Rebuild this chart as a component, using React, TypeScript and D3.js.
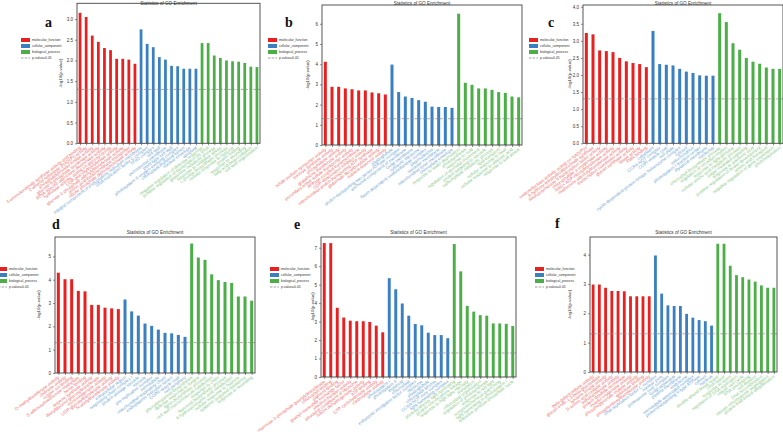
import * as d3 from "d3";
import { useEffect, useRef } from "react";

// GO categories and colours
const categories = ["molecular_function", "cellular_component", "biological_process"];
const barColors = ["#e8201f", "#3a7fc1", "#4cae47"];
const textColors = ["#ee6a6b", "#6a9fd4", "#82c77f"];
const title = "Statistics of GO Enrichment";
const yLabel = "-log10(p-value)";
const pCut = 0.05;

// panel a
const valuesA = [3.15, 3.05, 2.6, 2.45, 2.3, 2.25, 2.04, 2.04, 2.02, 1.92,
  2.75, 2.4, 2.32, 2.08, 2.02, 1.87, 1.86, 1.8, 1.8, 1.8,
  2.42, 2.42, 2.12, 2.06, 2.0, 1.98, 1.97, 1.94, 1.85, 1.84];
const termsA = ["5-aminolevulinate synthase activity and binding", "2-alkenal reductase [NAD(P)] activity",
  "phosphatidylinositol kinase activity", "glucose-6-phosphate isomerase activity",
  "tRNA-specific adenosine deaminase activity", "hydrolase activity, acting on glycosyl bonds",
  "UDP-glucosyltransferase activity", "glucose-1-phosphate adenylyltransferase activity",
  "amino acid transmembrane transporter", "ribose phosphate diphosphokinase activity",
  "integral component of endoplasmic reticulum membrane", "DNA replication factor C complex",
  "TFIID complex", "cell wall", "peroxisomal membrane", "plant-type cell wall",
  "photosystem II oxygen evolving complex", "chloroplast thylakoid lumen", "nuclear envelope", "apoplast",
  "negative regulation of defense response", "positive regulation of transcription by RNA",
  "glutamine metabolic process", "response to oxidative stress", "L-proline biosynthetic process",
  "cellular response to hypoxia", "protein folding", "response to wounding",
  "fatty acid beta-oxidation", "cell wall organization"];

// panel b
const valuesB = [4.12, 2.88, 2.88, 2.8, 2.76, 2.7, 2.7, 2.6, 2.56, 2.5,
  3.98, 2.62, 2.4, 2.33, 2.22, 2.14, 1.9, 1.88, 1.88, 1.84,
  6.5, 3.08, 2.98, 2.8, 2.8, 2.73, 2.62, 2.58, 2.4, 2.36];
const termsB = ["solute:sodium symporter activity", "sucrose synthase activity", "phosphatase activity",
  "glutathione transferase activity", "secondary active sulfate transporter activity",
  "ATPase-coupled transmembrane", "GDP-dissociation inhibitor activity",
  "mitochondrial proton-transporting ATP synthase", "glutamate decarboxylase activity", "nutrient reservoir activity",
  "plastoglobule", "proton-transporting two-sector ATPase complex", "anchored component of membrane",
  "Golgi membrane", "cytosolic ribosome", "flavin-dependent oxidoreductase complex",
  "plasmodesma", "vacuolar membrane", "mitochondrial inner membrane", "chloroplast envelope",
  "response to water deprivation", "photosynthesis", "response to cold", "regulation of stomatal movement",
  "protein targeting to vacuole", "carbohydrate metabolic process", "lipid transport",
  "cellular response to heat", "cellular response to abscisic acid", "response to salt stress"];

// panel c
const valuesC = [3.23, 3.19, 2.72, 2.7, 2.67, 2.5, 2.4, 2.35, 2.32, 2.23,
  3.29, 2.32, 2.3, 2.28, 2.18, 2.1, 2.06, 1.99, 1.98, 1.98,
  3.81, 3.55, 2.93, 2.74, 2.5, 2.39, 2.33, 2.22, 2.18, 2.18];
const termsC = ["oxidoreductase activity, acting on NAD(P)H", "4-hydroxy-tetrahydrodipicolinate synthase",
  "RNA polymerase II transcription factor activity", "chlorophyllide a oxygenase activity",
  "NAD+ ADP-ribosyltransferase activity", "methionine adenosyltransferase activity",
  "transcription coactivator activity", "glucan synthase activity", "lipase activity", "FMN binding",
  "cytoplasm", "CCR4-NOT complex", "COPI vesicle coat", "cell plate",
  "cyclin-dependent protein kinase holoenzyme complex", "cytosol", "mitochondrion",
  "photosystem I reaction center", "thylakoid membrane", "nucleolus",
  "chlorophyll biosynthetic process", "regulation of circadian rhythm", "response to light stimulus",
  "cellular amino acid metabolic process", "sugar mediated signaling", "response to jasmonic acid",
  "positive regulation of flower development", "amino acid transport",
  "negative regulation of gene expression", "photorespiration"];

// panel d
const valuesD = [4.3, 4.02, 4.02, 3.52, 3.5, 2.92, 2.92, 2.8, 2.77, 2.74,
  3.15, 2.64, 2.46, 2.12, 2.02, 1.86, 1.72, 1.7, 1.63, 1.55,
  5.55, 4.95, 4.85, 4.23, 3.98, 3.9, 3.86, 3.28, 3.28, 3.1];
const termsD = ["O-methyltransferase activity", "chitinase activity", "copper ion binding",
  "S-adenosylmethionine methylase", "heme binding", "terpene synthase activity",
  "diacylglycerol glucosyltransferase", "monooxygenase activity",
  "UDP-glycosyltransferase activity", "N-acetyltransferase activity",
  "extracellular region", "respiratory chain complex I", "protein storage vacuole", "vacuole",
  "pre-replicative complex", "microtubule", "mitochondrial respiratory chain",
  "endoplasmic reticulum lumen", "COPII vesicle coat", "cell periphery",
  "phenylpropanoid biosynthesis", "defense response to fungus", "lignin biosynthetic process",
  "cell wall macromolecule catabolism", "response to chitin",
  "flavonoid biosynthetic process", "4-hydroxycinnamic acid metabolism",
  "cellular response to hypoxia", "systemic acquired resistance", "response to wounding"];

// panel e
const valuesE = [7.25, 7.25, 3.75, 3.22, 3.05, 3.02, 3.02, 2.98, 2.78, 2.42,
  5.35, 4.75, 3.98, 3.32, 2.87, 2.8, 2.4, 2.27, 2.27, 2.1,
  7.2, 5.72, 3.85, 3.54, 3.35, 3.32, 2.9, 2.9, 2.88, 2.76];
const termsE = ["mannose-1-phosphate guanylyltransferase", "chlorophyll binding", "pigment binding",
  "guanyl-nucleotide exchange factor", "electron transfer activity",
  "structural constituent of ribosome", "NADH dehydrogenase activity", "ATP binding",
  "GTP cyclohydrolase activity", "carboxylase activity",
  "photosystem I", "photosystem II", "thylakoid", "chloroplast",
  "eukaryotic elongation factor complex", "ribosome", "plastoglobule",
  "chloroplast stroma", "CCR4-NOT core complex", "light-harvesting complex",
  "photosynthesis, light harvesting", "protein-chromophore linkage", "response to high light intensity",
  "translation", "chloroplast organization", "regulation of photosynthesis",
  "response to red light", "nonphotochemical quenching",
  "light harvesting in photosystem I", "reductive pentose-phosphate cycle"];

// panel f
const valuesF = [2.98, 2.98, 2.87, 2.76, 2.76, 2.75, 2.58, 2.58, 2.58, 2.58,
  3.97, 2.67, 2.27, 2.25, 2.25, 1.98, 1.85, 1.77, 1.73, 1.58,
  4.37, 4.37, 3.62, 3.3, 3.23, 3.15, 3.08, 2.95, 2.87, 2.87];
const termsF = ["beta-galactosidase activity", "glucan endo-1,3-beta-glucosidase", "tyrosine kinase activity",
  "D-amino acid oxidase activity", "sulfotransferase activity", "protein disulfide isomerase",
  "inositol oxygenase activity", "phosphoglycerate mutase activity", "galactose binding",
  "phosphoribosyltransferase activity",
  "DNA replication factor C complex", "nuclear pore", "proteasome core complex",
  "Golgi apparatus", "plasma membrane", "endosome", "microtubule associated complex",
  "proton-transporting V-type ATPase", "cytosol", "nucleus",
  "double-strand break repair", "DNA repair", "response to auxin",
  "regulation of DNA replication", "mitotic cell cycle", "RNA processing",
  "cell division", "DNA recombination", "meiotic chromosome segregation",
  "protein K48-linked ubiquitination"];

interface Panel {
  values: number[];
  terms: string[];
  letter: string;
  x0: number; x1: number; y0: number; y1: number;
  ymax: number; step: number; fmt: string;
  legX: number; legY: number;
  labX: number; letX: number; letY: number; titleY: number;
}

const panels: Panel[] = [
  { values: valuesA, terms: termsA, letter: "a", x0: 77, x1: 260, y0: 3.3, y1: 143.3, ymax: 3.38, step: 0.5, fmt: ".1f",
    legX: 21, legY: 40, labX: 62, letX: 45, letY: 27, titleY: 4.5 },
  { values: valuesB, terms: termsB, letter: "b", x0: 322, x1: 522, y0: 5, y1: 145, ymax: 6.93, step: 1, fmt: "d",
    legX: 268, legY: 40, labX: 309, letX: 285, letY: 27, titleY: 4.5 },
  { values: valuesC, terms: termsC, letter: "c", x0: 583, x1: 783, y0: 5, y1: 143.3, ymax: 4.05, step: 0.5, fmt: ".1f",
    legX: 529, legY: 40, labX: 571, letX: 548, letY: 27, titleY: 4.5 },
  { values: valuesD, terms: termsD, letter: "d", x0: 55, x1: 255, y0: 237, y1: 373, ymax: 5.83, step: 1, fmt: "d",
    legX: -2, legY: 269, labX: 40, letX: 52, letY: 229, titleY: 234 },
  { values: valuesE, terms: termsE, letter: "e", x0: 321, x1: 516, y0: 237, y1: 377, ymax: 7.58, step: 1, fmt: "d",
    legX: 270, legY: 269, labX: 314, letX: 294, letY: 229, titleY: 234 },
  { values: valuesF, terms: termsF, letter: "f", x0: 590, x1: 777, y0: 237, y1: 372, ymax: 4.6, step: 1, fmt: "d",
    legX: 535, legY: 269, labX: 571, letX: 555, letY: 228, titleY: 234 },
];

const sans = "Liberation Sans, Arial, sans-serif";

function drawPanel(svg: any, p: Panel) {
  const g = svg.append("g");
  const n = p.values.length;
  const x = d3.scaleLinear().domain([-0.5, n - 0.5]).range([p.x0, p.x1]);
  const y = d3.scaleLinear().domain([0, p.ymax]).range([p.y1, p.y0]);
  const bw = ((p.x1 - p.x0) / n) * 0.45;
  const group = (i: number) => Math.floor(i / 10);

  g.selectAll("rect.bar").data(p.values).join("rect")
    .attr("class", "bar")
    .attr("x", (_: number, i: number) => x(i) - bw / 2)
    .attr("y", (d: number) => y(d))
    .attr("width", bw)
    .attr("height", (d: number) => y(0) - y(d))
    .attr("fill", (_: number, i: number) => barColors[group(i)]);

  const cut = -Math.log10(pCut);
  g.append("line")
    .attr("x1", p.x0).attr("x2", p.x1).attr("y1", y(cut)).attr("y2", y(cut))
    .attr("stroke", "#8a8a8a").attr("stroke-width", 0.9).attr("stroke-dasharray", "3,1.2").attr("opacity", 0.8);

  g.append("rect")
    .attr("x", p.x0).attr("y", p.y0).attr("width", p.x1 - p.x0).attr("height", p.y1 - p.y0)
    .attr("fill", "none").attr("stroke", "#444").attr("stroke-width", 0.9);

  const ticks = d3.range(0, p.ymax + 1e-9, p.step);
  const yAxis = d3.axisLeft(y).tickValues(ticks).tickFormat(d3.format(p.fmt) as any).tickSize(2).tickPadding(2);
  const ya = g.append("g").attr("transform", `translate(${p.x0},0)`).call(yAxis);
  ya.select(".domain").remove();
  ya.selectAll("line").attr("stroke", "#444").attr("stroke-width", 0.6);
  ya.selectAll("text").attr("font-size", 4.5).attr("fill", "#333").attr("font-family", sans);

  const xAxis = d3.axisBottom(x).tickValues(d3.range(n)).tickFormat(() => "").tickSize(2);
  const xa = g.append("g").attr("transform", `translate(0,${p.y1})`).call(xAxis);
  xa.select(".domain").remove();
  xa.selectAll("line").attr("stroke", "#444").attr("stroke-width", 0.6);

  g.selectAll("text.term").data(p.terms).join("text")
    .attr("class", "term")
    .attr("transform", (_: string, i: number) => `translate(${x(i) + 1.2},${p.y1 + 5}) rotate(-37)`)
    .attr("text-anchor", "end")
    .attr("font-size", 4.4)
    .attr("font-family", sans)
    .attr("fill", (_: string, i: number) => textColors[group(i)])
    .text((d: string) => d);

  g.append("text")
    .attr("x", (p.x0 + p.x1) / 2).attr("y", p.titleY)
    .attr("text-anchor", "middle").attr("font-size", 4.6).attr("fill", "#333")
    .attr("font-family", sans)
    .text(title);

  g.append("text")
    .attr("transform", `translate(${p.labX},${(p.y0 + p.y1) / 2}) rotate(-90)`)
    .attr("text-anchor", "middle").attr("font-size", 4.4).attr("fill", "#333")
    .attr("font-family", sans)
    .text(yLabel);

  g.append("text")
    .attr("x", p.letX).attr("y", p.letY)
    .attr("font-size", 14).attr("font-weight", "bold").attr("fill", "#111")
    .attr("font-family", "Liberation Serif, Times New Roman, serif")
    .text(p.letter);

  // legend
  const leg = g.append("g").attr("transform", `translate(${p.legX},${p.legY})`);
  categories.forEach((c, i) => {
    leg.append("rect").attr("x", 0).attr("y", i * 6 - 2).attr("width", 9).attr("height", 4).attr("fill", barColors[i]);
    leg.append("text").attr("x", 11).attr("y", i * 6 + 1.2).attr("font-size", 3.4).attr("fill", "#333")
      .attr("font-family", sans).text(c);
  });
  leg.append("line").attr("x1", 0).attr("x2", 9).attr("y1", 18).attr("y2", 18)
    .attr("stroke", "#8a8a8a").attr("stroke-width", 0.8).attr("stroke-dasharray", "2.5,1.2");
  leg.append("text").attr("x", 11).attr("y", 19.2).attr("font-size", 3.4).attr("fill", "#333")
    .attr("font-family", sans).text("p-value=" + pCut);
}

export default function App() {
  const ref = useRef<SVGSVGElement | null>(null);

  useEffect(() => {
    const svg = d3.select(ref.current);
    svg.selectAll("*").remove();
    panels.forEach((p) => drawPanel(svg, p));
  }, []);

  return (
    <svg ref={ref} width={783} height={432}
      style={{ position: "absolute", left: 0, top: 0, background: "#fff" }} />
  );
}
